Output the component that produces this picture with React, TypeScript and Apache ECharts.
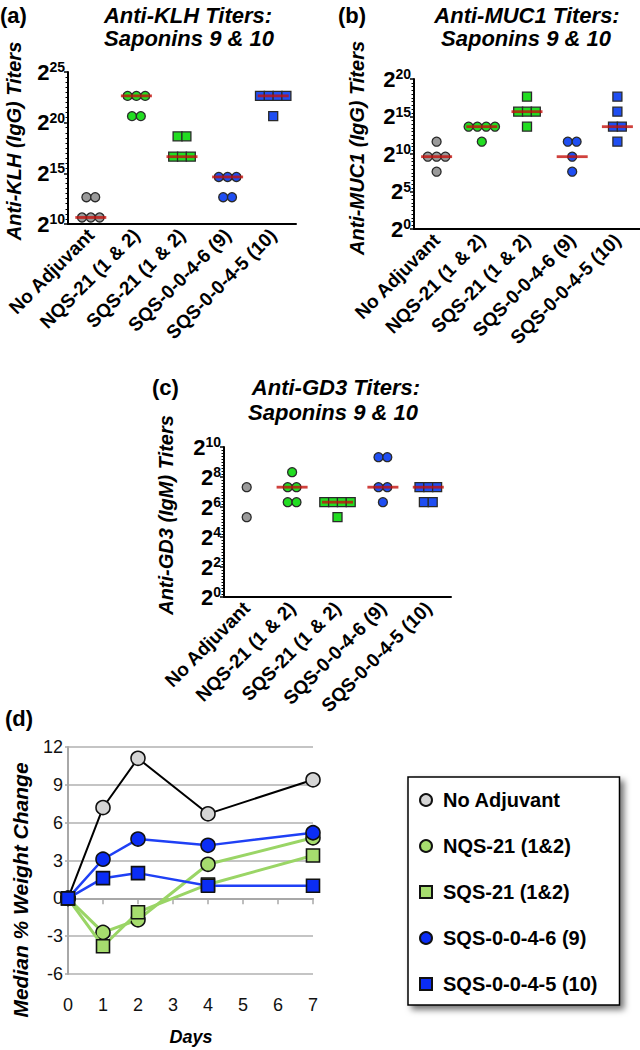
import React, { useEffect, useRef } from 'react';
import * as echarts from 'echarts';

const FONT = "'Liberation Sans', Arial, Helvetica, sans-serif";

const GROUPS = ['No Adjuvant', 'NQS-21 (1 & 2)', 'SQS-21 (1 & 2)', 'SQS-0-0-4-6 (9)', 'SQS-0-0-4-5 (10)'];

// (a) Anti-KLH IgG titers
const KLH_NO_ADJUVANT = [6400, 6400, 1600, 1600, 1600];
const KLH_NQS21 = [6553600, 6553600, 6553600, 1638400, 1638400];
const KLH_SQS21 = [409600, 409600, 102400, 102400, 102400];
const KLH_SQS9 = [25600, 25600, 25600, 6400, 6400];
const KLH_SQS10 = [6553600, 6553600, 6553600, 6553600, 1638400];
const KLH_MEDIANS = [1600, 6553600, 102400, 25600, 6553600];

// (b) Anti-MUC1 IgG titers
const MUC1_NO_ADJUVANT = [3200, 800, 800, 800, 200];
const MUC1_NQS21 = [12800, 12800, 12800, 12800, 3200];
const MUC1_SQS21 = [204800, 51200, 51200, 51200, 12800];
const MUC1_SQS9 = [3200, 3200, 800, 200];
const MUC1_SQS10 = [204800, 51200, 12800, 12800, 3200];
const MUC1_MEDIANS = [800, 12800, 51200, 800, 12800];

// (c) Anti-GD3 IgM titers
const GD3_NO_ADJUVANT = [160, 40];
const GD3_NQS21 = [320, 160, 160, 80, 80];
const GD3_SQS21 = [80, 80, 80, 80, 40];
const GD3_SQS9 = [640, 640, 160, 160, 80];
const GD3_SQS10 = [160, 160, 160, 80, 80];
const GD3_MEDIANS = [null, 160, 80, 160, 160];

// (d) Median % weight change
const DAYS = [0, 1, 2, 4, 7];
const WT_NO_ADJUVANT = [0, 7.2, 11.1, 6.7, 9.4];
const WT_NQS21 = [0, -2.7, -1.7, 2.7, 4.8];
const WT_SQS21 = [0, -3.8, -1.1, 1.1, 3.4];
const WT_SQS9 = [0, 3.1, 4.7, 4.2, 5.2];
const WT_SQS10 = [0, 1.6, 2.0, 1.0, 1.0];
const WT_NAMES = ['No Adjuvant', 'NQS-21 (1&2)', 'SQS-21 (1&2)', 'SQS-0-0-4-6 (9)', 'SQS-0-0-4-5 (10)'];

const GROUP_SHAPES = ['circle', 'circle', 'rect', 'circle', 'rect'];
const GROUP_COLORS = ['#9a9a9a', '#22dd22', '#22dd22', '#1f4ef2', '#1f4ef2'];

function jitter(vals: number[], spacing: number) {
  const groups: Record<string, number[]> = {};
  vals.forEach((v, i) => {
    (groups[String(v)] = groups[String(v)] || []).push(i);
  });
  const off = new Array(vals.length).fill(0);
  Object.values(groups).forEach((idx) => {
    idx.forEach((i, k) => {
      off[i] = (k - (idx.length - 1) / 2) * spacing;
    });
  });
  return off;
}

function titerPanel(p: number, groups: number[][], medians: (number | null)[]) {
  const series: any[] = [];
  groups.forEach((vals, g) => {
    const off = jitter(vals, 8.8);
    series.push({
      type: 'scatter',
      name: `p${p}-g${g}`,
      xAxisIndex: p,
      yAxisIndex: p,
      symbol: GROUP_SHAPES[g],
      symbolSize: 9,
      z: 3,
      itemStyle: { color: GROUP_COLORS[g], borderColor: '#2a2a2a', borderWidth: 1.3, opacity: 1 },
      data: vals.map((v, i) => ({ value: [g, Math.log2(v)], symbolOffset: [off[i], 0] })),
    });
  });
  series.push({
    type: 'scatter',
    name: `p${p}-median`,
    xAxisIndex: p,
    yAxisIndex: p,
    symbol: 'rect',
    symbolSize: [31, 2.8],
    z: 4,
    itemStyle: { color: '#c4120c' },
    data: medians.map((m, g) => (m == null ? null : [g, Math.log2(m)])).filter((d) => d !== null),
  });
  return series;
}

const catAxis = (gridIndex: number) => ({
  type: 'category',
  gridIndex,
  data: GROUPS,
  boundaryGap: true,
  axisLine: { lineStyle: { color: '#000', width: 2 } },
  axisTick: { alignWithLabel: true, length: 5, lineStyle: { color: '#000', width: 1.5 } },
  axisLabel: {
    interval: 0,
    rotate: 45,
    margin: 8,
    color: '#000',
    fontSize: 19,
    fontWeight: 'bold',
    fontFamily: FONT,
  },
  splitLine: { show: false },
});

const powAxis = (gridIndex: number, min: number, max: number, interval: number) => ({
  type: 'value',
  gridIndex,
  min,
  max,
  interval,
  axisLine: { show: true, lineStyle: { color: '#000', width: 2 } },
  axisTick: { show: true, length: 4, lineStyle: { color: '#000', width: 1.5 } },
  minorTick: { show: true, splitNumber: 10, length: 2.5, lineStyle: { color: '#000', width: 1 } },
  splitLine: { show: false },
  axisLabel: {
    margin: 3,
    formatter: (v: number) => `{b|2}{s|${v}}`,
    rich: {
      b: { fontSize: 22, fontWeight: 'bold', fontFamily: FONT, color: '#000', lineHeight: 24 },
      s: { fontSize: 14, fontWeight: 'bold', fontFamily: FONT, color: '#000', verticalAlign: 'top', lineHeight: 14 },
    },
  },
});

function txt(text: string, x: number, y: number, size: number, opts: any = {}) {
  return {
    type: 'text',
    x,
    y,
    rotation: opts.rotation || 0,
    style: {
      text,
      fill: '#000',
      fontSize: size,
      fontWeight: 'bold',
      fontStyle: opts.italic ? 'italic' : 'normal',
      fontFamily: FONT,
      align: opts.align || 'center',
      textAlign: opts.align || 'center',
      verticalAlign: 'middle',
      textVerticalAlign: 'middle',
    },
  };
}

export default function App() {
  const ref = useRef<HTMLDivElement>(null);
  useEffect(() => {
    if (!ref.current) return;
    const chart = echarts.init(ref.current, undefined, { renderer: 'svg' });

    const wtSeries = [
      { data: WT_NO_ADJUVANT, symbol: 'circle', fill: '#d5d5d5', line: '#000000', width: 2 },
      { data: WT_NQS21, symbol: 'circle', fill: '#a6dc6e', line: '#9ad566', width: 3 },
      { data: WT_SQS21, symbol: 'rect', fill: '#a6dc6e', line: '#9ad566', width: 3 },
      { data: WT_SQS9, symbol: 'circle', fill: '#0b2df5', line: '#1f40f5', width: 2.5 },
      { data: WT_SQS10, symbol: 'rect', fill: '#0b2df5', line: '#1f40f5', width: 2.5 },
    ].map((s, i) => ({
      type: 'line',
      name: WT_NAMES[i],
      xAxisIndex: 3,
      yAxisIndex: 3,
      symbol: s.symbol,
      symbolSize: s.symbol === 'rect' ? 13 : 14,
      showAllSymbol: true,
      z: 3 + i,
      lineStyle: { color: s.line, width: s.width },
      itemStyle: { color: s.fill, borderColor: '#111', borderWidth: 1.6 },
      data: DAYS.map((d, k) => [d, s.data[k]]),
    }));

    const option: any = {
      animation: false,
      grid: [
        { left: 68, top: 72, width: 228, height: 152 },
        { left: 414, top: 79, width: 226, height: 150 },
        { left: 224, top: 447, width: 227, height: 150 },
        { left: 68, top: 747, width: 245, height: 227 },
      ],
      xAxis: [
        catAxis(0),
        catAxis(1),
        catAxis(2),
        {
          type: 'value',
          gridIndex: 3,
          min: 0,
          max: 7,
          interval: 1,
          axisLine: { show: true, lineStyle: { color: '#a8a8a8', width: 2 } },
          axisTick: { show: true, length: 6, lineStyle: { color: '#a8a8a8', width: 1.5 } },
          splitLine: { show: false },
          axisLabel: { margin: 22, fontSize: 18, color: '#111', fontFamily: FONT },
        },
      ],
      yAxis: [
        powAxis(0, 10, 25, 5),
        powAxis(1, 0, 20, 5),
        powAxis(2, 0, 10, 2),
        {
          type: 'value',
          gridIndex: 3,
          min: -6,
          max: 12,
          interval: 3,
          axisLine: { show: true, lineStyle: { color: '#a8a8a8', width: 2 } },
          axisTick: { show: true, length: 3, lineStyle: { color: '#a8a8a8', width: 1.5 } },
          splitLine: { show: true, lineStyle: { color: '#b0b0b0', width: 1.5 } },
          axisLabel: { margin: 5, fontSize: 18, color: '#111', fontFamily: FONT },
        },
      ],
      legend: {
        orient: 'vertical',
        left: 408,
        top: 777,
        padding: [13, 22, 11, 11],
        itemGap: 26,
        itemWidth: 12,
        itemHeight: 12,
        borderColor: '#000',
        borderWidth: 1.5,
        backgroundColor: '#fff',
        shadowBlur: 6,
        shadowColor: 'rgba(0,0,0,0.55)',
        shadowOffsetX: 4,
        shadowOffsetY: 4,
        textStyle: { fontSize: 20, fontWeight: 'bold', fontFamily: FONT, color: '#000', lineHeight: 20, padding: [0, 0, 0, 6] },
        data: WT_NAMES.map((n, i) => ({ name: n, icon: i === 2 || i === 4 ? 'rect' : 'circle' })),
      },
      graphic: [
        txt('(a)', 0, 15, 22, { align: 'left' }),
        txt('Anti-KLH Titers:', 188, 15, 22, { italic: true }),
        txt('Saponins 9 & 10', 189, 38, 22, { italic: true }),
        txt('(b)', 338, 15, 22, { align: 'left' }),
        txt('Anti-MUC1 Titers:', 527, 15, 22, { italic: true }),
        txt('Saponins 9 & 10', 526, 38, 22, { italic: true }),
        txt('(c)', 152, 387, 22, { align: 'left' }),
        txt('Anti-GD3 Titers:', 336, 387, 22, { italic: true }),
        txt('Saponins 9 & 10', 333, 412, 22, { italic: true }),
        txt('(d)', 5, 718, 22, { align: 'left' }),
        txt('Anti-KLH (IgG) Titers', 14, 141, 20, { italic: true, rotation: Math.PI / 2 }),
        txt('Anti-MUC1 (IgG) Titers', 357, 148, 20, { italic: true, rotation: Math.PI / 2 }),
        txt('Anti-GD3 (IgM) Titers', 166, 515, 20, { italic: true, rotation: Math.PI / 2 }),
        txt('Median % Weight Change', 20, 890, 21, { italic: true, rotation: Math.PI / 2 }),
        txt('Days', 191, 1037, 18, { italic: true }),
      ],
      series: [
        ...titerPanel(0, [KLH_NO_ADJUVANT, KLH_NQS21, KLH_SQS21, KLH_SQS9, KLH_SQS10], KLH_MEDIANS),
        ...titerPanel(1, [MUC1_NO_ADJUVANT, MUC1_NQS21, MUC1_SQS21, MUC1_SQS9, MUC1_SQS10], MUC1_MEDIANS),
        ...titerPanel(2, [GD3_NO_ADJUVANT, GD3_NQS21, GD3_SQS21, GD3_SQS9, GD3_SQS10], GD3_MEDIANS),
        ...wtSeries,
      ],
    };
    chart.setOption(option);
    return () => chart.dispose();
  }, []);
  return (
    <div
      ref={ref}
      style={{ position: 'absolute', left: 0, top: 0, width: 640, height: 1050, background: '#fff' }}
    />
  );
}
